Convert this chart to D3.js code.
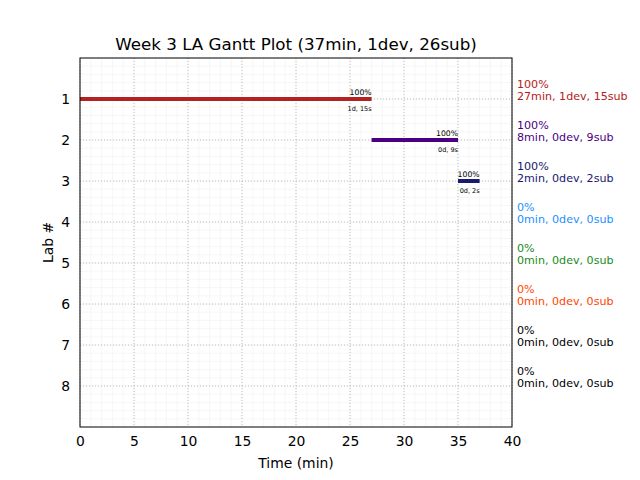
<!DOCTYPE html>
<html><head><meta charset="utf-8">
<script src="https://cdn.jsdelivr.net/npm/d3@7"></script>
<style>body{margin:0;background:#fff}svg{font-family:"DejaVu Sans",sans-serif}</style>
</head><body>
<svg id="c" width="640" height="480"></svg>
<script>
const labs = [1,2,3,4,5,6,7,8];
const starts = [0, 27, 35, null, null, null, null, null];
const ends = [27, 35, 37, null, null, null, null, null];
const barPct = ["100%","100%","100%"];
const barSub = ["1d, 15s","0d, 9s","0d, 2s"];
const sidePct = ["100%","100%","100%","0%","0%","0%","0%","0%"];
const sideInfo = ["27min, 1dev, 15sub","8min, 0dev, 9sub","2min, 0dev, 2sub","0min, 0dev, 0sub","0min, 0dev, 0sub","0min, 0dev, 0sub","0min, 0dev, 0sub","0min, 0dev, 0sub"];
const colors = ["#b22222","#4b0082","#191970","#1e90ff","#228b22","#ff4500","#000000","#000000"];
const xTicks = [0,5,10,15,20,25,30,35,40];

const svg = d3.select("#c");
const L=80, R=512, T=58, B=427;
const x = d3.scaleLinear().domain([0,40]).range([L,R]);
const y = d3.scaleLinear().domain([0,9]).range([T,B]);

// minor grid
const g = svg.append("g");
g.selectAll(".mx").data(d3.range(0,41,1)).enter().append("line")
 .attr("x1",d=>x(d)).attr("x2",d=>x(d)).attr("y1",T).attr("y2",B)
 .attr("stroke","#f4f4f4").attr("stroke-width",0.8);
g.selectAll(".my").data(d3.range(0,45).map(i=>i*0.2)).enter().append("line")
 .attr("y1",d=>y(d)).attr("y2",d=>y(d)).attr("x1",L).attr("x2",R)
 .attr("stroke","#f4f4f4").attr("stroke-width",0.8);
// major grid
g.selectAll(".Mx").data(xTicks).enter().append("line")
 .attr("x1",d=>x(d)).attr("x2",d=>x(d)).attr("y1",T).attr("y2",B)
 .attr("stroke","#b0b0b0").attr("stroke-width",0.8).attr("stroke-dasharray","1,2");
g.selectAll(".My").data(labs).enter().append("line")
 .attr("y1",d=>y(d)).attr("y2",d=>y(d)).attr("x1",L).attr("x2",R)
 .attr("stroke","#b0b0b0").attr("stroke-width",0.8).attr("stroke-dasharray","1,2");

// bars
labs.forEach((lab,i)=>{
  if(starts[i]==null) return;
  svg.append("line").attr("x1",x(starts[i])).attr("x2",x(ends[i]))
    .attr("y1",y(lab)).attr("y2",y(lab)).attr("stroke",colors[i]).attr("stroke-width",4);
  svg.append("text").attr("x",x(ends[i])).attr("y",y(lab)-4).attr("text-anchor","end")
    .attr("font-size",7.7).attr("fill","#000").text(barPct[i]);
  svg.append("text").attr("x",x(ends[i])).attr("y",y(lab)+11.5).attr("text-anchor","end")
    .attr("font-size",6.5).attr("fill","#000").text(barSub[i]);
});

// frame
svg.append("rect").attr("x",L).attr("y",T).attr("width",R-L).attr("height",B-T)
 .attr("fill","none").attr("stroke","#000").attr("stroke-width",1);

// axes
const xa = svg.append("g").attr("transform",`translate(0,${B})`)
 .call(d3.axisBottom(x).tickValues(xTicks).tickSize(0).tickPadding(9));
xa.select(".domain").remove();
xa.selectAll("text").attr("font-size",13.9).attr("font-family","DejaVu Sans").attr("fill","#000");
const ya = svg.append("g").attr("transform",`translate(${L},0)`)
 .call(d3.axisLeft(y).tickValues(labs).tickSize(0).tickPadding(10));
ya.select(".domain").remove();
ya.selectAll("text").attr("font-size",13.9).attr("font-family","DejaVu Sans").attr("fill","#000");

// side labels
labs.forEach((lab,i)=>{
  svg.append("text").attr("x",517).attr("y",y(lab)-11).attr("font-size",11.1)
   .attr("fill",colors[i]).text(sidePct[i]);
  svg.append("text").attr("x",517).attr("y",y(lab)+1).attr("font-size",11.1)
   .attr("fill",colors[i]).text(sideInfo[i]);
});

// titles
svg.append("text").attr("x",(L+R)/2).attr("y",50).attr("text-anchor","middle")
 .attr("font-size",16.7).text("Week 3 LA Gantt Plot (37min, 1dev, 26sub)");
svg.append("text").attr("x",(L+R)/2).attr("y",468).attr("text-anchor","middle")
 .attr("font-size",13.9).text("Time (min)");
svg.append("text").attr("transform",`translate(53,${(T+B)/2}) rotate(-90)`).attr("text-anchor","middle")
 .attr("font-size",13.9).text("Lab #");
</script>
</body></html>
